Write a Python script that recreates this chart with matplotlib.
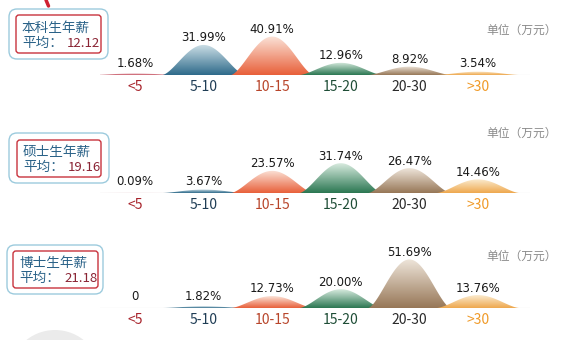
import matplotlib
matplotlib.use('Agg')
import matplotlib.pyplot as plt
import numpy as np
from matplotlib.colors import LinearSegmentedColormap
from matplotlib.patches import FancyBboxPatch, Circle

plt.rcParams['font.family'] = ['Noto Sans CJK SC', 'DejaVu Sans']

# data
categories = ['<5', '5-10', '10-15', '15-20', '20-30', '>30']
groups = ['本科生年薪', '硕士生年薪', '博士生年薪']
averages = ['12.12', '19.16', '21.18']
bachelor = [1.68, 31.99, 40.91, 12.96, 8.92, 3.54]
master = [0.09, 3.67, 23.57, 31.74, 26.47, 14.46]
doctor = [0, 1.82, 12.73, 20.00, 51.69, 13.76]
pct_labels = [
    ['1.68%', '31.99%', '40.91%', '12.96%', '8.92%', '3.54%'],
    ['0.09%', '3.67%', '23.57%', '31.74%', '26.47%', '14.46%'],
    ['0', '1.82%', '12.73%', '20.00%', '51.69%', '13.76%'],
]
series = [bachelor, master, doctor]

# styles
fill_dark = ['#c4505e', '#2e6a8a', '#e8603a', '#2b7752', '#977757', '#eea84e']
fill_light = ['#f3d6da', '#cfe1e8', '#fbe3d8', '#d8ebdf', '#eee5da', '#fbebcf']
cat_colors = ['#a8242c', '#1f3d55', '#b8452a', '#1e4d36', '#2a2a2a', '#f09a28']

W, H = 579, 340
fig = plt.figure(figsize=(W / 100, H / 100), dpi=100)
fig.patch.set_facecolor('white')

# background layer in pixel coords
bg = fig.add_axes([0, 0, 1, 1], zorder=0)
bg.set_xlim(0, W)
bg.set_ylim(H, 0)
bg.axis('off')
bg.add_patch(Circle((55, 376), 46, color='#ebebeb', lw=0))
bg.plot([46, 48.5], [0, 6], color='#d02030', lw=2.5, solid_capstyle='round')

baselines = [75, 193, 308]
outer_boxes = [(9, 9, 99, 50), (9, 133, 100, 50), (7, 245, 96, 49)]
inner_boxes = [(16, 15, 85, 38), (17, 140, 84, 37), (13, 251, 85, 37)]
unit_y = [30, 133, 256]

px_left, px_right = 100, 530
c0, step = 135, 68.6
half_w = 0.6  # half width of each bump in category units

for k in range(3):
    # label boxes
    ox, oy, ow, oh = outer_boxes[k]
    bg.add_patch(FancyBboxPatch((ox, oy), ow, oh, boxstyle='round,pad=0,rounding_size=8',
                                fc='white', ec='#9ccbdd', lw=1.0))
    ix, iy, iw, ih = inner_boxes[k]
    bg.add_patch(FancyBboxPatch((ix, iy), iw, ih, boxstyle='round,pad=0,rounding_size=3',
                                fc='white', ec='#c8323c', lw=1.0))
    bg.text(ix + 6, iy + ih * 0.33, groups[k], color='#2a6288', fontsize=9.8,
            va='center', ha='left')
    bg.text(ix + 6, iy + ih * 0.74, '平均：', color='#2a6288', fontsize=9.8,
            va='center', ha='left')
    bg.text(ix + 51, iy + ih * 0.74, averages[k], color='#8a2434', fontsize=9.5,
            va='center', ha='left')
    bg.text(522, unit_y[k], '单位（万元）', color='#8a8a8a', fontsize=8.5,
            va='center', ha='center')

    # curve panel
    b = 1 - baselines[k] / H
    ax = fig.add_axes([px_left / W, b, (px_right - px_left) / W, 62 / H], zorder=2)
    ax.patch.set_alpha(0)
    ax.axis('off')
    xmin = (px_left - c0) / step
    xmax = (px_right - c0) / step
    ax.plot([xmin, xmax], [0, 0], color='#d5d5d5', lw=0.8, zorder=1)
    vals = series[k]
    for i, v in enumerate(vals):
        xs = np.linspace(i - half_w, i + half_w, 300)
        ys = v * ((1 + np.cos(np.pi * (xs - i) / half_w)) / 2) ** 0.75
        if v > 0:
            poly = ax.fill_between(xs, 0, ys, color='none', lw=0, zorder=2 + i)
            cmap = LinearSegmentedColormap.from_list('g%d' % i, [fill_dark[i], fill_light[i]])
            grad = np.linspace(0, 1, 128).reshape(-1, 1)
            im = ax.imshow(grad, extent=[xs[0], xs[-1], 0, max(v, 0.8)], origin='lower',
                           aspect='auto', cmap=cmap, zorder=2 + i)
            im.set_clip_path(poly.get_paths()[0], transform=ax.transData)
        ax.text(i, max(v + 7.5, 12.5), pct_labels[k][i], ha='center', va='center',
                fontsize=8.5, color='#1a1a1a', clip_on=False, zorder=10,
                family='DejaVu Sans')
        ax.text(i, -12.5, categories[i], ha='center', va='center', fontsize=10,
                color=cat_colors[i], clip_on=False, zorder=10)
    ax.set_xlim(xmin, xmax)
    ax.set_ylim(0, 66)

fig.savefig('out.png', dpi=100)
